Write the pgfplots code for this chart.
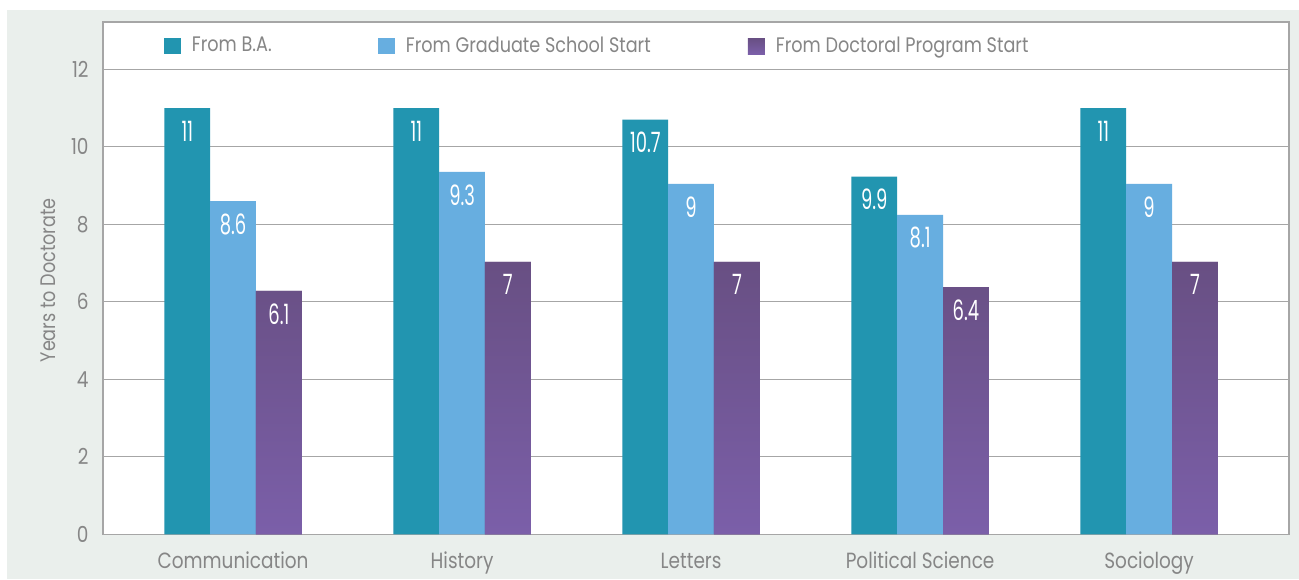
\documentclass[border=0pt]{standalone}
\usepackage{fontspec}
\setmainfont{Poppins}[FakeStretch=0.84]
\newfontfamily\condfont{Poppins}[FakeStretch=0.64]
\usepackage{pgfplots}
\pgfplotsset{compat=1.18}
\usepackage{pgfplotstable}
\definecolor{tealc}{HTML}{2295B0}
\definecolor{bluec}{HTML}{67AEE0}
\definecolor{purtop}{HTML}{684F83}
\definecolor{purbot}{HTML}{7B5FA9}
\definecolor{bgc}{HTML}{EAEFEC}
\definecolor{gridc}{HTML}{A6A6A6}
\definecolor{txtc}{HTML}{868686}

\pgfplotstableread{
x y label
0 11 11
1 11 11
2 10.7 10.7
3 9.23 9.9
4 11 11
}\tba
\pgfplotstableread{
x y label
0 8.6 8.6
1 9.35 9.3
2 9.04 9
3 8.24 8.1
4 9.04 9
}\tgs
\pgfplotstableread{
x y label
0 6.28 6.1
1 7.03 7
2 7.03 7
3 6.38 6.4
4 7.03 7
}\tdp

\begin{document}
\begin{tikzpicture}
\useasboundingbox (0,0) rectangle (649.5pt,289.5pt);
\fill[bgc] (3.5pt,0) rectangle (649.5pt,284.5pt);
\begin{axis}[
  at={(51.5pt,22.35pt)}, anchor=south west,
  scale only axis, width=593pt, height=256.15pt,
  axis background/.style={fill=white},
  xmin=-0.568, xmax=4.611, ymin=0, ymax=13.22,
  ytick={0,2,...,12},
  ymajorgrids, major grid style={gridc, line width=0.65pt},
  axis line style={gridc, line width=0.65pt},
  major tick length=0pt,
  xtick={0,...,4},
  xticklabels={Communication,History,Letters,Political Science,Sociology},
  /pgf/number format/assume math mode=true,
  yticklabel style={font=\fontsize{11}{11}\selectfont, text=txtc, anchor=east, inner sep=0pt, xshift=-7pt},
  xticklabel style={font=\fontsize{11}{11}\selectfont, text=txtc, anchor=base, inner sep=0pt, yshift=-17pt},
  ylabel={Years to Doctorate},
  ylabel style={font=\fontsize{10.5}{10.5}\selectfont, text=txtc, at={(axis description cs:-0.0464,0.496)}, anchor=center},
  ybar, bar width=0.2,
  point meta=explicit symbolic,
  nodes near coords,
  every node near coord/.append style={font=\condfont\fontsize{14}{14}\selectfont, text=white, anchor=center, yshift=-11.5pt},
  legend columns=3,
  legend style={at={(rel axis cs:0.0514,0.953)}, anchor=west, draw=none, fill=none, inner sep=0pt, outer sep=0pt,
    nodes={inner sep=0pt, text=txtc, font=\fontsize{10.5}{10.5}\selectfont},
    /tikz/every odd column/.append style={column sep=5.5pt},
    /tikz/every even column/.append style={column sep=0pt}},
  legend image code/.code={\fill[#1] (0pt,-4pt) rectangle (8.5pt,4pt);},
]
\addplot[fill=tealc, draw=none, bar shift=-0.2] table[x=x,y=y,meta=label]{\tba};
\addlegendentry{\makebox[93pt][l]{From B.A.}}
\addplot[fill=bluec, draw=none, bar shift=0] table[x=x,y=y,meta=label]{\tgs};
\addlegendentry{\makebox[171pt][l]{From Graduate School Start}}
\addplot[fill=purtop, top color=purtop, bottom color=purbot, draw=none, bar shift=0.2] table[x=x,y=y,meta=label]{\tdp};
\addlegendentry{From Doctoral Program Start}
\end{axis}
\end{tikzpicture}
\end{document}
